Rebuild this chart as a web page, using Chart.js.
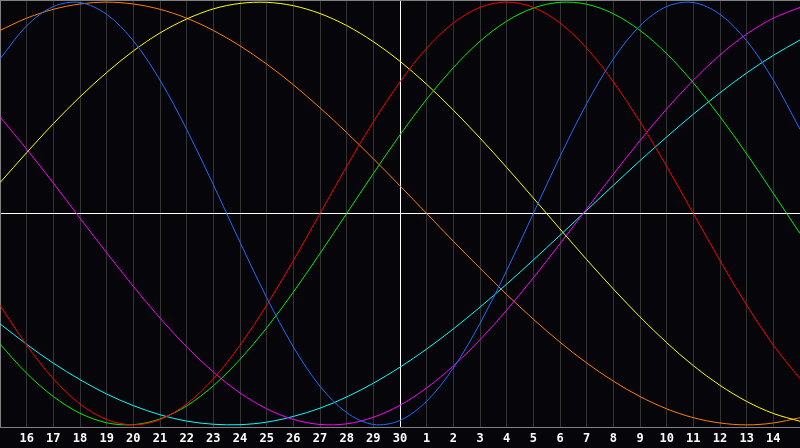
<!DOCTYPE html>
<html>
<head>
<meta charset="utf-8">
<script src="https://cdn.jsdelivr.net/npm/chart.js@4"></script>
<style>
  html, body { margin: 0; padding: 0; background: #060509; }
  #wrap { width: 800px; height: 448px; }
</style>
</head>
<body>
<div id="wrap"><canvas id="bioChart" width="800" height="448"></canvas></div>
<script>
// day labels along the bottom (15th of one month to the 15th of the next)
const dayLabels = ["15","16","17","18","19","20","21","22","23","24","25","26","27","28","29","30",
                   "1","2","3","4","5","6","7","8","9","10","11","12","13","14","15"];
const todayIndex = 15;

// cycle values, one per day (-1 .. 1)
const physical = [0.731,0.888,0.979,0.998,0.942,0.817,0.631,0.398,0.136,-0.136,-0.398,-0.631,-0.817,-0.942,-0.998,-0.979,
                  -0.888,-0.731,-0.520,-0.270,0.000,0.270,0.520,0.731,0.888,0.979,0.998,0.942,0.817,0.631,0.398];
const emotional = [-0.434,-0.623,-0.782,-0.901,-0.975,-1.000,-0.975,-0.901,-0.782,-0.623,-0.434,-0.223,0.000,0.223,0.434,0.623,
                   0.782,0.901,0.975,1.000,0.975,0.901,0.782,0.623,0.434,0.223,0.000,-0.223,-0.434,-0.623,-0.782];
const intellectual = [-0.618,-0.756,-0.866,-0.945,-0.990,-0.999,-0.972,-0.910,-0.815,-0.690,-0.541,-0.372,-0.189,0.000,0.189,0.372,
                      0.541,0.690,0.815,0.910,0.972,0.999,0.990,0.945,0.866,0.756,0.618,0.458,0.282,0.095,-0.095];
const intuitive = [0.457,0.304,0.144,-0.022,-0.186,-0.345,-0.495,-0.631,-0.750,-0.849,-0.924,-0.974,-0.998,-0.995,-0.964,-0.907,
                   -0.825,-0.721,-0.597,-0.457,-0.304,-0.143,0.022,0.186,0.345,0.495,0.631,0.750,0.849,0.924,0.975];
const aesthetic = [0.146,0.288,0.425,0.552,0.667,0.769,0.854,0.920,0.968,0.994,0.999,0.983,0.946,0.889,0.813,0.720,
                   0.611,0.489,0.357,0.218,0.073,-0.073,-0.218,-0.357,-0.489,-0.611,-0.720,-0.813,-0.889,-0.946,-0.983];
const awareness = [0.866,0.924,0.966,0.991,1.000,0.991,0.966,0.924,0.866,0.793,0.707,0.609,0.500,0.383,0.259,0.131,
                   0.000,-0.131,-0.259,-0.383,-0.500,-0.609,-0.707,-0.793,-0.866,-0.924,-0.966,-0.991,-1.000,-0.991,-0.966];
const spiritual = [-0.522,-0.619,-0.708,-0.786,-0.854,-0.909,-0.952,-0.982,-0.997,-0.999,-0.987,-0.960,-0.921,-0.868,-0.803,-0.727,
                   -0.641,-0.546,-0.443,-0.334,-0.220,-0.103,0.015,0.133,0.250,0.362,0.470,0.571,0.665,0.748,0.821];

const seriesNames = ["Physical","Emotional","Intellectual","Intuitive","Aesthetic","Awareness","Spiritual"];
const seriesColors = ["#1e6eff","#ff0000","#00f000","#ff00ff","#ffff00","#ff8000","#00ffff"];
const seriesData = [physical, emotional, intellectual, intuitive, aesthetic, awareness, spiritual];

// thin frame along the top of the plot
const framePlugin = {
    id: "frame",
    afterDraw(chart) {
        const a = chart.chartArea;
        const ctx = chart.ctx;
        ctx.save();
        ctx.strokeStyle = "#808080";
        ctx.lineWidth = 1;
        ctx.beginPath();
        ctx.moveTo(a.left, a.top + 0.5);
        ctx.lineTo(a.right, a.top + 0.5);
        ctx.stroke();
        ctx.restore();
    }
};

let ctx = document.getElementById("bioChart").getContext("2d");

new Chart(ctx, {
    type: "line",
    data: {
        labels: dayLabels,
        datasets: seriesData.map((d, i) => ({
            label: seriesNames[i],
            data: d,
            borderColor: seriesColors[i],
            borderWidth: 1,
            pointRadius: 0,
            pointHoverRadius: 0,
            pointBorderWidth: 0,
            pointHitRadius: 0,
            tension: 0.33,
            fill: false
        }))
    },
    options: {
        responsive: false,
        animation: false,
        layout: { padding: 0 },
        plugins: {
            legend: { display: false },
            tooltip: { enabled: false }
        },
        scales: {
            x: {
                type: "category",
                offset: false,
                grid: {
                    offset: false,
                    drawTicks: false,
                    color: c => c.index === todayIndex ? "#ffffff" : "#333333"
                },
                border: { color: "#808080" },
                ticks: {
                    autoSkip: false,
                    maxRotation: 0,
                    padding: 5,
                    color: "#ffffff",
                    font: { family: "DejaVu Sans Mono", size: 12, weight: "bold" },
                    callback: (v, i) => (i === 0 || i === dayLabels.length - 1) ? "" : dayLabels[i]
                },
                afterFit: s => { s.height = 21; s.paddingLeft = 0; s.paddingRight = 0; }
            },
            y: {
                min: -1.01,
                max: 1.01,
                ticks: { display: false, stepSize: 1 },
                grid: {
                    drawTicks: false,
                    color: c => c.tick && c.tick.value === 0 ? "#ffffff" : "rgba(0,0,0,0)"
                },
                border: { color: "#808080" },
                afterFit: s => { s.width = 0; s.paddingTop = 0; s.paddingBottom = 0; }
            }
        }
    },
    plugins: [framePlugin]
});
</script>
</body>
</html>
